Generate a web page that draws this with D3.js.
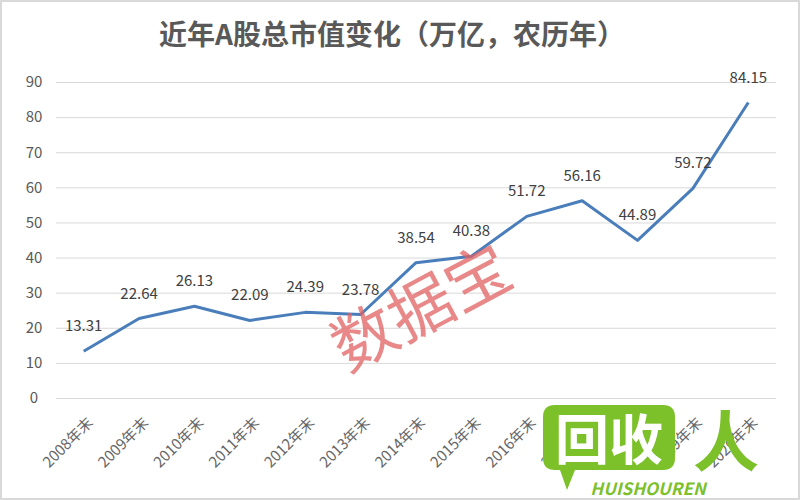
<!DOCTYPE html>
<html>
<head>
<meta charset="utf-8">
<script src="https://cdn.jsdelivr.net/npm/d3@7"></script>
<style>
  body { margin: 0; background: #fff; }
  text { font-family: "Noto Sans CJK SC", "Microsoft YaHei", sans-serif; }
</style>
</head>
<body>
<div id="chart"></div>
<script>
// data
var years = ["2008年末", "2009年末", "2010年末", "2011年末", "2012年末", "2013年末", "2014年末",
  "2015年末", "2016年末", "2017年末", "2018年末", "2019年末", "2020年末"];
var marketCap = [13.31, 22.64, 26.13, 22.09, 24.39, 23.78, 38.54, 40.38, 51.72, 56.16, 44.89, 59.72, 84.15];
var yTicks = [0, 10, 20, 30, 40, 50, 60, 70, 80, 90];

var svgWidth = 800;
var svgHeight = 500;
var margin = { top: 82, right: 24, bottom: 102, left: 56 };
var width = svgWidth - margin.left - margin.right;
var height = svgHeight - margin.top - margin.bottom;

var svg = d3.select("#chart").append("svg")
  .attr("width", svgWidth)
  .attr("height", svgHeight);

// outer frame
svg.append("rect")
  .attr("x", 1).attr("y", 1)
  .attr("width", svgWidth - 2).attr("height", svgHeight - 2)
  .attr("fill", "#fff")
  .attr("stroke", "#d9d9d9")
  .attr("stroke-width", 2);

svg.append("text")
  .attr("x", 392)
  .attr("y", 45)
  .attr("text-anchor", "middle")
  .attr("font-size", "28px")
  .attr("font-weight", "bold")
  .attr("fill", "#595959")
  .text("近年A股总市值变化（万亿，农历年）");

var chartGroup = svg.append("g")
  .attr("transform", `translate(${margin.left}, ${margin.top})`);

var x = d3.scalePoint()
  .domain(years)
  .range([0, width])
  .padding(0.5);

var y = d3.scaleLinear()
  .domain([0, 90])
  .range([height, 0]);

// gridlines + y labels
var yAxis = chartGroup.append("g")
  .call(d3.axisLeft(y).tickValues(yTicks).tickSize(-width));
yAxis.select(".domain").remove();
yAxis.selectAll(".tick line").attr("stroke", "#d9d9d9").attr("stroke-width", 1);
yAxis.selectAll(".tick text")
  .attr("fill", "#595959")
  .attr("font-size", "15px")
  .attr("text-anchor", "middle")
  .attr("x", -22);

// x labels
var xAxis = chartGroup.append("g")
  .attr("transform", `translate(0, ${height})`)
  .call(d3.axisBottom(x).tickSize(0));
xAxis.select(".domain").remove();
xAxis.selectAll(".tick text")
  .attr("fill", "#666")
  .attr("font-size", "15px")
  .attr("text-anchor", "end")
  .attr("y", 0)
  .attr("dy", "0.35em")
  .attr("transform", "translate(6, 22) rotate(-45)");

// line
var line = d3.line()
  .x((d, i) => x(years[i]))
  .y(d => y(d));

chartGroup.append("path")
  .datum(marketCap)
  .attr("fill", "none")
  .attr("stroke", "#4a7ebb")
  .attr("stroke-width", 3)
  .attr("stroke-linejoin", "round")
  .attr("d", line);

// value labels
chartGroup.selectAll(".valLabel")
  .data(marketCap)
  .enter()
  .append("text")
  .attr("class", "valLabel")
  .attr("x", (d, i) => x(years[i]))
  .attr("y", d => y(d) - 20)
  .attr("text-anchor", "middle")
  .attr("font-size", "15px")
  .attr("fill", "#404040")
  .text(d => d.toFixed(2));

// watermark 数据宝
svg.append("text")
  .attr("transform", "translate(432, 328) rotate(-28)")
  .attr("text-anchor", "middle")
  .attr("font-size", "64px")
  .attr("fill", "#e06060")
  .attr("fill-opacity", 0.75)
  .text("数据宝");

// logo watermark
var logo = svg.append("g");
logo.append("path")
  .attr("d", "M555,405 H663 Q675,405 675,417 V458 Q675,470 663,470 H575 L567,490 L560,470 H555 Q543,470 543,458 V417 Q543,405 555,405 Z")
  .attr("fill", "#7cc02a");
logo.append("text")
  .attr("x", 609).attr("y", 460)
  .attr("text-anchor", "middle")
  .attr("font-size", "54px")
  .attr("font-weight", "bold")
  .attr("fill", "#fff")
  .text("回收");
logo.append("text")
  .attr("x", 726).attr("y", 466)
  .attr("text-anchor", "middle")
  .attr("font-size", "66px")
  .attr("font-weight", "bold")
  .attr("fill", "#7cc02a")
  .text("人");
logo.append("text")
  .attr("x", 648).attr("y", 495)
  .attr("text-anchor", "middle")
  .attr("font-size", "17px")
  .attr("font-weight", "bold")
  .attr("font-style", "italic")
  .attr("fill", "#7cc02a")
  .text("HUISHOUREN");
</script>
</body>
</html>
